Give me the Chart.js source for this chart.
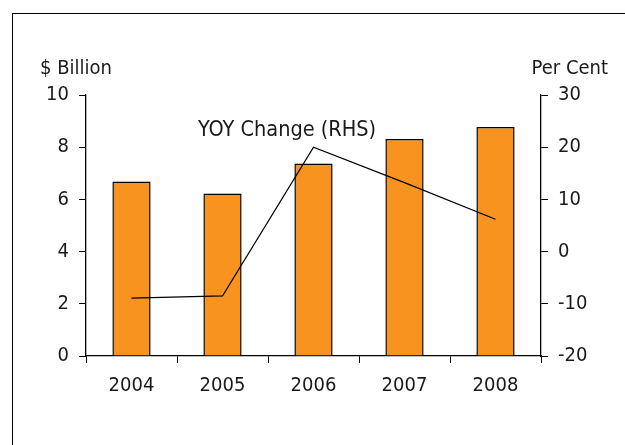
<!DOCTYPE html>
<html>
<head>
<meta charset="utf-8">
<style>
  body { margin: 0; background: #fff; }
  #wrap { position: relative; width: 625px; height: 445px; overflow: hidden; }
  #frame { position: absolute; left: 12px; top: 13px; width: 700px; height: 500px;
           border-left: 1px solid #000; border-top: 1px solid #000; }
  canvas { position: absolute; left: 0; top: 0; }
</style>
</head>
<body>
<div id="wrap">
  <div id="frame"></div>
  <canvas id="myChart" width="625" height="445"></canvas>
</div>

<script src="https://cdn.jsdelivr.net/npm/chart.js"></script>
<script>
  // données
  const years = ['2004', '2005', '2006', '2007', '2008'];
  const billions = [6.69, 6.23, 7.38, 8.31, 8.77];
  const yoyChange = [-8.9, -8.5, 20.0, 13.2, 6.2];
  const leftTicks = [0, 2, 4, 6, 8, 10];
  const rightTicks = [-20, -10, 0, 10, 20, 30];

  const fontFamily = '"DejaVu Sans Condensed", "DejaVu Sans", Verdana, sans-serif';
  const txt = '#1a1a1a';

  // titres des axes + étiquette de la courbe
  const labelsPlugin = {
    id: 'labelsPlugin',
    afterDraw(chart) {
      const ctx = chart.ctx;
      const x = chart.scales.x;
      const y1 = chart.scales.y1;
      ctx.save();
      ctx.fillStyle = txt;
      ctx.font = '20px ' + fontFamily;
      ctx.textBaseline = 'alphabetic';
      ctx.textAlign = 'left';
      ctx.fillText('$ Billion', 40, 74);
      ctx.textAlign = 'right';
      ctx.fillText('Per Cent', 608, 74);
      ctx.font = '21.5px ' + fontFamily;
      ctx.textAlign = 'center';
      ctx.textBaseline = 'middle';
      const px = (x.getPixelForValue(1) + x.getPixelForValue(2)) / 2 + 19;
      ctx.fillText('YOY Change (RHS)', px, y1.getPixelForValue(23.3));
      ctx.restore();
    }
  };

  const config = {
    data: {
      labels: years,
      datasets: [
        {
          type: 'line',
          label: 'YOY Change (RHS)',
          data: yoyChange,
          yAxisID: 'y1',
          borderColor: '#000',
          borderWidth: 1.3,
          pointRadius: 0,
          tension: 0,
          order: 0
        },
        {
          type: 'bar',
          label: '$ Billion',
          data: billions,
          yAxisID: 'y',
          backgroundColor: '#F7931E',
          borderColor: '#000',
          borderWidth: 1.5,
          barPercentage: 0.42,
          categoryPercentage: 1,
          order: 1
        }
      ]
    },
    options: {
      responsive: false,
      animation: false,
      layout: { padding: { top: 95, left: 0, right: 0, bottom: 0 } },
      plugins: { legend: { display: false }, tooltip: { enabled: false } },
      scales: {
        x: {
          grid: { drawOnChartArea: false, color: '#000', tickLength: 7, offset: true },
          border: { color: '#000', width: 1.3 },
          ticks: { color: txt, font: { family: fontFamily, size: 20 }, padding: 11 },
          afterFit(s) { s.height = 89; }
        },
        y: {
          position: 'left',
          min: 0, max: 10,
          afterBuildTicks(s) { s.ticks = leftTicks.map(v => ({ value: v })); },
          grid: { drawOnChartArea: false, color: '#000', tickLength: 7 },
          border: { color: '#000', width: 1.3 },
          ticks: { color: txt, font: { family: fontFamily, size: 20 }, padding: 10 },
          afterFit(s) { s.width = 86; }
        },
        y1: {
          position: 'right',
          min: -20, max: 30,
          afterBuildTicks(s) { s.ticks = rightTicks.map(v => ({ value: v })); },
          grid: { drawOnChartArea: false, color: '#000', tickLength: 7 },
          border: { color: '#000', width: 1.3 },
          ticks: { color: txt, font: { family: fontFamily, size: 20 }, padding: 10 },
          afterFit(s) { s.width = 84; }
        }
      }
    },
    plugins: [labelsPlugin]
  };

  const myChart = new Chart(document.getElementById('myChart'), config);
</script>
</body>
</html>
